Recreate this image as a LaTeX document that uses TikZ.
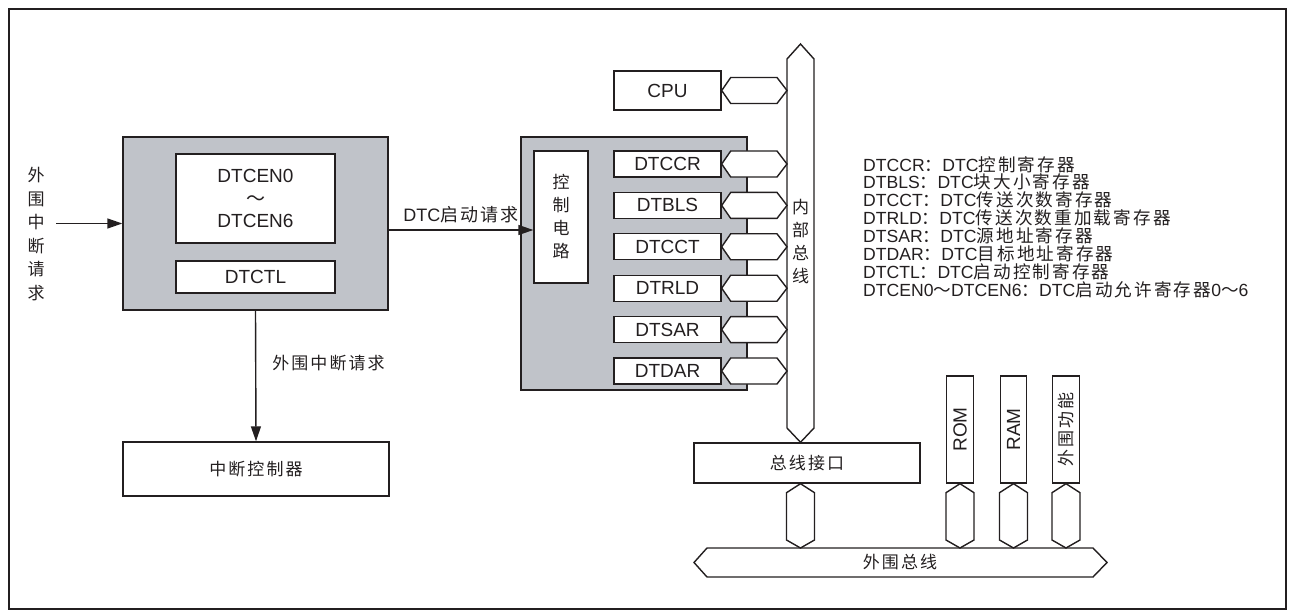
\documentclass[tikz,border=0pt]{standalone}
\usepackage{fontspec}
\setmainfont{Liberation Sans}
\newfontfamily\cjk[LetterSpace=12]{Noto Sans CJK SC}
\newcommand{\zh}[1]{{\cjk #1}}
\usetikzlibrary{arrows.meta, calc, positioning}
\definecolor{dtcgray}{RGB}{192,195,201}
\definecolor{inkc}{RGB}{35,31,32}
\tikzset{
    box/.style={rectangle, draw=inkc, line width=1.4pt, fill=white, align=center,
        inner sep=0pt, text=inkc, font=\fontsize{19}{22.5}\selectfont},
    zhbox/.style={box, font=\cjk\fontsize{17}{20}\selectfont},
    grayblock/.style={rectangle, draw=inkc, line width=1.4pt, fill=dtcgray, inner sep=0pt},
    regbox/.style={box, minimum width=107pt, minimum height=26pt},
    vbox/.style={box, rotate=90, minimum width=107pt, minimum height=26.5pt},
    arrow/.style={-{Triangle[length=15pt, width=10pt]}, line width=1.4pt, draw=inkc},
    lbl/.style={text=inkc, inner sep=0pt, font=\fontsize{18}{20}\selectfont},
    zhlbl/.style={lbl, align=center, font=\cjk\fontsize{17}{23.5}\selectfont},
    legend/.style={lbl, align=left, font=\fontsize{17.6}{17.9}\selectfont},
    link/.style={draw=inkc, line width=1.4pt, fill=white, line join=miter},
}
% hexagon link, left tip #1 to right tip #2
\newcommand{\hlink}[2]{%
    \coordinate (lkA) at (#1); \coordinate (lkB) at (#2);
    \path[link] (lkA) -- ++(9,-13) -- ($(lkB)+(-10,-13)$) -- (lkB)
        -- ($(lkB)+(-10,13)$) -- ($(lkA)+(9,13)$) -- cycle;}
% hexagon link, top tip #1 to bottom tip #2
\newcommand{\vlink}[2]{%
    \coordinate (lkA) at (#1); \coordinate (lkB) at (#2);
    \path[link] (lkA) -- ++(14,9) -- ($(lkB)+(14,-8)$) -- (lkB)
        -- ($(lkB)+(-14,-8)$) -- ($(lkA)+(-14,9)$) -- cycle;}

\begin{document}
\begin{tikzpicture}[x=1pt, y=-1pt]
    \useasboundingbox (0,0) rectangle (1292,612);
    \draw[line width=2.8pt, inkc] (9,9) rectangle (1286,609);

    % enable / control registers
    \node[grayblock, minimum width=265pt, minimum height=173pt] (enblock) at (255.5,223.5) {};
    \node[box, minimum width=159pt, minimum height=89pt] (enreg) at (255.5,198.5)
        {DTCEN0\\\zh{～}\\DTCEN6};
    \node[box, minimum width=159pt, minimum height=32pt] (ctlreg) at (255.5,277) {DTCTL};
    \node[zhlbl] (extreq) at (36,234) {外\\围\\中\\断\\请\\求};
    \coordinate (extin) at (56,223.5);
    \draw[arrow] (extin) -- (enblock.west);

    \node[zhbox, minimum width=266pt, minimum height=54pt] (intc) at (256,469) {中断控制器};
    \draw[arrow] (enblock.south) -- (intc.north)
        node[pos=0.4, right=16pt, zhlbl] {外围中断请求};

    % DTC block
    \node[grayblock, minimum width=226pt, minimum height=253pt] (dtcblock) at (634,263.5) {};
    \node[zhbox, font=\cjk\fontsize{17}{23}\selectfont, minimum width=54pt,
        minimum height=132pt] (ctrl) at (561,217) {控\\制\\电\\路};
    \coordinate (reqy) at (0,230);
    \draw[arrow] (enblock.east |- reqy) -- (ctrl.west |- reqy)
        node[midway, above=6pt, lbl] {DTC\zh{启动请求}};

    \node[regbox, minimum height=39pt] (cpu) at (667.5,90.5) {CPU};
    \node[regbox] (r1) at (667.5,164) {DTCCR};
    \node[regbox, below=14pt of r1] (r2) {DTBLS};
    \node[regbox, below=14pt of r2] (r3) {DTCCT};
    \node[regbox, below=14pt of r3] (r4) {DTRLD};
    \node[regbox, below=14pt of r4] (r5) {DTSAR};
    \node[regbox, below=14pt of r5] (r6) {DTDAR};

    % internal bus
    \node[box, minimum width=226pt, minimum height=40pt, font=\cjk\fontsize{17}{20}\selectfont]
        (bif) at (807,463) {总线接口};
    \coordinate (ibusW) at (787,0);
    \coordinate (ibusC) at (800.5,0);
    \path[link] (800.5,44) -- (814,59) -- (814,428) -- (ibusC |- bif.north)
        -- (787,428) -- (787,59) -- cycle;
    \node[zhlbl, font=\cjk\fontsize{17}{23}\selectfont] (ibus) at (800.5,242) {内\\部\\总\\线};
    \foreach \r in {cpu,r1,r2,r3,r4,r5,r6}
        \hlink{\r.east}{\r.east -| ibusW};

    % peripheral bus
    \coordinate (pbusN) at (0,548);
    \path[link] (694,562.5) -- (707,548) -- (1093,548) -- (1107,562.5)
        -- (1093,577) -- (707,577) -- cycle;
    \node[zhlbl] (pbus) at (900,562.5) {外围总线};
    \node[vbox] (rom) at (960,429.5) {ROM};
    \node[vbox] (ram) at (1013.5,429.5) {RAM};
    \node[vbox, font=\cjk\fontsize{17}{20}\selectfont] (perif) at (1066,429.5) {外围功能};
    \vlink{ibusC |- bif.south}{ibusC |- pbusN}
    \foreach \m in {rom,ram,perif}
        \vlink{\m.west}{\m.west |- pbusN};

    % legend
    \node[legend, anchor=north west] (legend) at (863,156) {%
        DTCCR\zh{：}DTC\zh{控制寄存器}\\
        DTBLS\zh{：}DTC\zh{块大小寄存器}\\
        DTCCT\zh{：}DTC\zh{传送次数寄存器}\\
        DTRLD\zh{：}DTC\zh{传送次数重加载寄存器}\\
        DTSAR\zh{：}DTC\zh{源地址寄存器}\\
        DTDAR\zh{：}DTC\zh{目标地址寄存器}\\
        DTCTL\zh{：}DTC\zh{启动控制寄存器}\\
        DTCEN0\zh{～}DTCEN6\zh{：}DTC\zh{启动允许寄存器}0\zh{～}6};
\end{tikzpicture}
\end{document}
